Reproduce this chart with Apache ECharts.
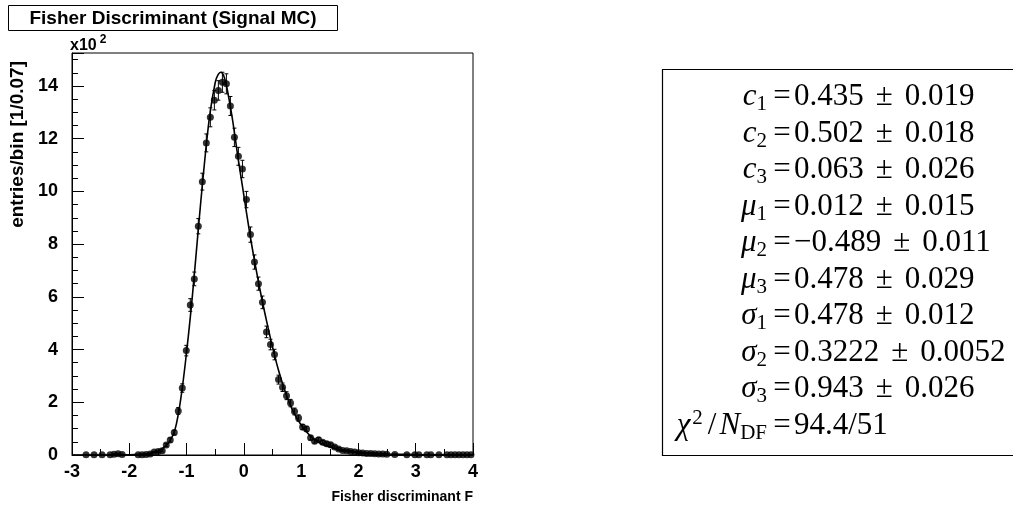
<!DOCTYPE html>
<html>
<head>
<meta charset="utf-8">
<script src="https://cdn.jsdelivr.net/npm/echarts@6/dist/echarts.min.js"></script>
<style>
  html, body { margin: 0; padding: 0; background: #fff; }
  #chart { width: 1013px; height: 510px; }
</style>
</head>
<body>
<div id="chart"></div>
<script>
// Histogram binning: 100 bins of width 0.07 between -3 and 4
const binLow = -3;
const binWidth = 0.07;

// Entries per bin (null = empty bin, no marker drawn)
const counts = [
  null, null, null, 1, null, 1, null, 1, null, 1,
  3, 5, 2, null, null, null, 1, 1, 2, 4,
  11, 13, 16, 38, 57, 85, 167, 254, 396, 569,
  668, 868, 1037, 1184, 1281, 1346, 1383, 1414, 1408, 1324,
  1205, 1133, 1085, 969, 836, 732, 650, 579, 467, 419,
  381, 286, 257, 225, 197, 165, 140, 106, 99, 65,
  52, 58, 48, 43, 39, 30, 23, 17, 16, 13,
  11, 9, 8, 6, 6, 5, 4, 4, 3, null,
  2, null, null, 1, null, 1, 1, null, 1, 1,
  null, 1, null, 1, 1, 1, 1, 1, 1, 1
];

// Statistical error per bin
const errors = [
  0, 0, 0, 1, 0, 1, 0, 1, 0, 1,
  2, 2, 1, 0, 0, 0, 1, 1, 1, 2,
  3, 4, 4, 6, 8, 9, 13, 16, 20, 24,
  26, 29, 32, 34, 36, 37, 37, 38, 38, 36,
  35, 34, 33, 31, 29, 27, 25, 24, 22, 20,
  20, 17, 16, 15, 14, 13, 12, 10, 10, 8,
  7, 8, 7, 7, 6, 5, 5, 4, 4, 4,
  3, 3, 3, 2, 2, 2, 2, 2, 2, 0,
  1, 0, 0, 1, 0, 1, 1, 0, 1, 1,
  0, 1, 0, 1, 1, 1, 1, 1, 1, 1
];

// Fitted curve (sum of three Gaussians), sampled along F
const fitX = [
  -3.0, -2.6, -2.2, -2.0, -1.8, -1.7, -1.6, -1.5, -1.4, -1.3,
  -1.2, -1.1, -1.0, -0.9, -0.8, -0.7, -0.6, -0.5, -0.45, -0.4,
  -0.35, -0.3, -0.2, -0.1, 0.0, 0.1, 0.2, 0.3, 0.4, 0.5,
  0.6, 0.7, 0.8, 0.9, 1.0, 1.1, 1.2, 1.3, 1.4, 1.5,
  1.6, 1.7, 1.8, 1.9, 2.0, 2.2, 2.5, 3.0, 3.5, 4.0
];
const fitY = [
  0, 0.1, 0.5, 1.2, 3, 5, 9, 16, 28, 50,
  98, 215, 390, 600, 845, 1080, 1282, 1413, 1443, 1452,
  1438, 1398, 1275, 1125, 985, 845, 720, 607, 505, 410,
  325, 254, 195, 149, 114, 86, 64, 49, 38, 30,
  24, 19, 15, 12, 10, 7, 4, 1.3, 0.3, 0.1
];

// Axis ranges and tick steps
const xRange = [-3, 4];
const yRange = [0, 1525];
const xMajor = 1, xMinor = 0.5;
const yMajor = 200, yMinor = 50;
const yScaleExp = 2;

// Fit result lines: [left-hand side (rich), right-hand side]
const fitParams = [
  ['{i|c}{s|1}', '0.435{pm|±}0.019'],
  ['{i|c}{s|2}', '0.502{pm|±}0.018'],
  ['{i|c}{s|3}', '0.063{pm|±}0.026'],
  ['{i|μ}{s|1}', '0.012{pm|±}0.015'],
  ['{i|μ}{s|2}', '−0.489{pm|±}0.011'],
  ['{i|μ}{s|3}', '0.478{pm|±}0.029'],
  ['{i|σ}{s|1}', '0.478{pm|±}0.012'],
  ['{i|σ}{s|2}', '0.3222{pm|±}0.0052'],
  ['{i|σ}{s|3}', '0.943{pm|±}0.026'],
  ['{i|χ}{sup|2}{m|/}{i|N}{s|DF}', '94.4/51']
];

const titleText = 'Fisher Discriminant (Signal MC)';
const xTitle = 'Fisher discriminant F';
const yTitle = 'entries/bin [1/0.07]';

const points = counts.map((c, i) => [binLow + binWidth * (i + 0.5), c, errors[i]])
  .filter(p => p[1] !== null);
const curve = fitX.map((x, i) => [x, fitY[i]]);

const sans = 'Liberation Sans, Arial, Helvetica, sans-serif';
const serif = 'Liberation Serif, Times New Roman, serif';

const grid = { left: 72, top: 53, width: 401, height: 402 };

const chart = echarts.init(document.getElementById('chart'), null, { renderer: 'canvas' });

const mathSize = 31;
const mathRich = {
  i: { fontFamily: serif, fontStyle: 'italic', fontSize: mathSize, lineHeight: 36, verticalAlign: 'middle', color: '#000' },
  m: { fontFamily: serif, fontSize: mathSize, lineHeight: 36, verticalAlign: 'middle', color: '#000', padding: [0, 3, 0, 2] },
  s: { fontFamily: serif, fontSize: 21, lineHeight: 21, verticalAlign: 'bottom', color: '#000' },
  sup: { fontFamily: serif, fontSize: 21, lineHeight: 21, verticalAlign: 'top', color: '#000', padding: [0, 3, 0, 2] },
  pm: { fontFamily: serif, fontSize: mathSize, lineHeight: 36, verticalAlign: 'middle', color: '#000', padding: [0, 12, 0, 12] }
};

const paramLineY0 = 97;
const paramLineStep = 36.5;
const eqX = 782;

const paramGraphics = [];
fitParams.forEach((p, k) => {
  const y = paramLineY0 + k * paramLineStep;
  paramGraphics.push({
    type: 'text', x: eqX - 15, y: y,
    style: { text: p[0], rich: mathRich, align: 'right', verticalAlign: 'middle', font: mathSize + 'px ' + serif }
  });
  paramGraphics.push({
    type: 'text', x: eqX, y: y,
    style: { text: '=', font: mathSize + 'px ' + serif, fill: '#000', align: 'center', verticalAlign: 'middle' }
  });
  paramGraphics.push({
    type: 'text', x: eqX + 12, y: y,
    style: { text: p[1], rich: mathRich, align: 'left', verticalAlign: 'middle', font: mathSize + 'px ' + serif, fill: '#000' }
  });
});

const option = {
  animation: false,
  backgroundColor: '#fff',
  grid: Object.assign({ show: true, borderColor: '#000', borderWidth: 1, backgroundColor: 'transparent' }, grid),
  xAxis: [
    {
      type: 'value', min: xRange[0], max: xRange[1], interval: xMajor, position: 'bottom',
      axisLine: { show: true, onZero: false, lineStyle: { color: '#000', width: 1 } },
      axisTick: { show: true, inside: true, length: 12, lineStyle: { color: '#000' } },
      axisLabel: { color: '#000', fontFamily: sans, fontWeight: 'bold', fontSize: 18, margin: 8,
        formatter: v => (Math.abs(v - Math.round(v)) < 1e-9 ? String(Math.round(v)) : '') },
      splitLine: { show: false }
    },
    {
      type: 'value', min: xRange[0], max: xRange[1], interval: xMinor, position: 'bottom', offset: 0,
      axisLine: { show: false, onZero: false },
      axisTick: { show: true, inside: true, length: 6, lineStyle: { color: '#000' } },
      axisLabel: { show: false }, splitLine: { show: false }
    }
  ],
  yAxis: [
    {
      type: 'value', min: yRange[0], max: yRange[1], interval: yMajor, position: 'left',
      axisLine: { show: true, onZero: false, lineStyle: { color: '#000', width: 1 } },
      axisTick: { show: true, inside: true, length: 12, lineStyle: { color: '#000' } },
      axisLabel: { color: '#000', fontFamily: sans, fontWeight: 'bold', fontSize: 18, margin: 14,
        formatter: v => (v % yMajor === 0 ? String(v / Math.pow(10, yScaleExp)) : '') },
      splitLine: { show: false }
    },
    {
      type: 'value', min: yRange[0], max: yRange[1], interval: yMinor, position: 'left', offset: 0,
      axisLine: { show: false, onZero: false },
      axisTick: { show: true, inside: true, length: 6, lineStyle: { color: '#000' } },
      axisLabel: { show: false }, splitLine: { show: false }
    }
  ],
  series: [
    {
      type: 'custom', name: 'errors', xAxisIndex: 0, yAxisIndex: 0, z: 3,
      data: points,
      encode: { x: 0, y: 1 },
      renderItem: function (params, api) {
        const x = api.value(0), v = api.value(1), e = api.value(2);
        if (!e) return null;
        const lo = api.coord([x, v - e]);
        const hi = api.coord([x, v + e]);
        const cap = 2;
        const st = { stroke: '#000', lineWidth: 1 };
        return {
          type: 'group',
          children: [
            { type: 'line', shape: { x1: lo[0], y1: lo[1], x2: hi[0], y2: hi[1] }, style: st },
            { type: 'line', shape: { x1: lo[0] - cap, y1: lo[1], x2: lo[0] + cap, y2: lo[1] }, style: st },
            { type: 'line', shape: { x1: hi[0] - cap, y1: hi[1], x2: hi[0] + cap, y2: hi[1] }, style: st }
          ]
        };
      }
    },
    {
      type: 'scatter', name: 'data', xAxisIndex: 0, yAxisIndex: 0, z: 4,
      symbol: 'circle', symbolSize: 7,
      itemStyle: { color: '#000' },
      data: points.map(p => [p[0], p[1]])
    },
    {
      type: 'line', name: 'fit', xAxisIndex: 0, yAxisIndex: 0, z: 5,
      data: curve, smooth: 0.35, showSymbol: false, symbol: 'none',
      lineStyle: { color: '#000', width: 1.6 },
      clip: true
    }
  ],
  graphic: [
    // title box
    { type: 'rect', shape: { x: 8.5, y: 5.5, width: 329, height: 25 },
      style: { fill: '#fff', stroke: '#000', lineWidth: 1 } },
    { type: 'text', x: 173, y: 18.5,
      style: { text: titleText, font: 'bold 19px ' + sans, fill: '#000', align: 'center', verticalAlign: 'middle' } },
    // axis multiplier
    { type: 'text', x: 70, y: 44,
      style: { text: '{b|x10}{p|' + yScaleExp + '}', align: 'left', verticalAlign: 'middle',
        rich: { b: { font: 'bold 16px ' + sans, fill: '#000', lineHeight: 20, verticalAlign: 'bottom' },
                p: { font: 'bold 12px ' + sans, fill: '#000', lineHeight: 12, verticalAlign: 'top', padding: [0, 0, 0, 3] } } } },
    // axis titles
    { type: 'text', x: 473, y: 497,
      style: { text: xTitle, font: 'bold 14px ' + sans, fill: '#000', align: 'right', verticalAlign: 'middle' } },
    { type: 'text', x: 18, y: 61, rotation: Math.PI / 2,
      style: { text: yTitle, font: 'bold 19px ' + sans, fill: '#000', align: 'right', verticalAlign: 'middle' } },
    // fit parameter box
    { type: 'rect', shape: { x: 662.5, y: 69.5, width: 400, height: 386 },
      style: { fill: '#fff', stroke: '#000', lineWidth: 1.2 } }
  ].concat(paramGraphics)
};

chart.setOption(option);
</script>
</body>
</html>
